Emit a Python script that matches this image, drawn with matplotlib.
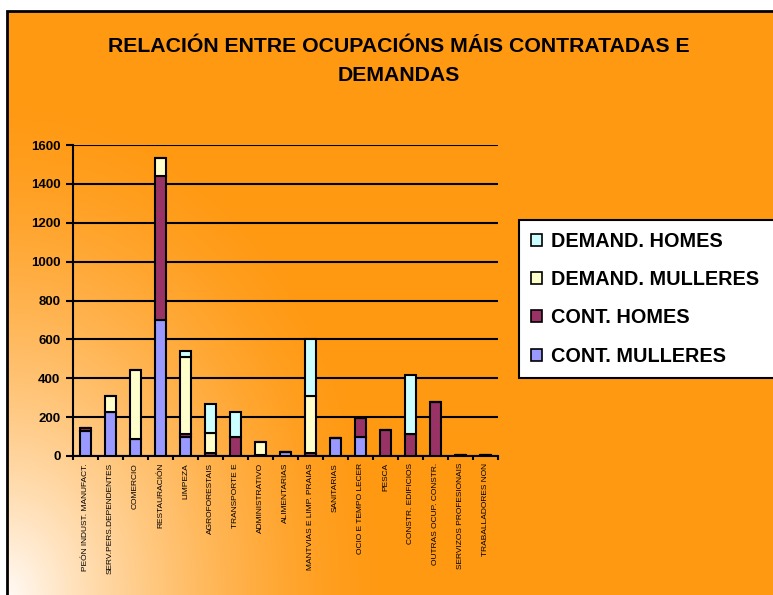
import numpy as np
import matplotlib
matplotlib.use("Agg")
import matplotlib.pyplot as plt
from matplotlib.patches import Rectangle, Patch

categories = ["PEÓN INDUST. MANUFACT.", "SERV.PERS.DEPENDENTES", "COMERCIO", "RESTAURACIÓN",
              "LIMPEZA", "AGROFORESTAIS", "TRANSPORTE E", "ADMINISTRATIVO", "ALIMENTARIAS",
              "MANTVIAS E LIMP. PRAIAS", "SANITARIAS", "OCIO E TEMPO LECER", "PESCA",
              "CONSTR. EDIFICIOS", "OUTRAS OCUP. CONSTR.", "SERVIZOS PROFESIONAIS",
              "TRABALLADORES NON"]
cont_mulleres = [130, 225, 90, 700, 100, 0, 0, 0, 20, 0, 95, 100, 0, 0, 0, 0, 0]
cont_homes = [15, 0, 0, 740, 12, 15, 100, 3, 0, 15, 0, 95, 135, 115, 280, 5, 5]
demand_mulleres = [0, 85, 355, 95, 395, 105, 0, 68, 0, 295, 0, 0, 0, 0, 0, 0, 0]
demand_homes = [0, 0, 0, 0, 35, 148, 125, 0, 0, 290, 0, 0, 0, 300, 0, 0, 0]
series_names = ["CONT. MULLERES", "CONT. HOMES", "DEMAND. MULLERES", "DEMAND. HOMES"]
series_colors = ["#9999FF", "#993366", "#FFFFCC", "#CCFFFF"]
y_ticks = [0, 200, 400, 600, 800, 1000, 1200, 1400, 1600]
title = "RELACIÓN ENTRE OCUPACIÓNS MÁIS CONTRATADAS E\nDEMANDAS"

W, H = 773, 595
fig = plt.figure(figsize=(W / 100, H / 100), dpi=100)
fig.patch.set_facecolor("white")

# background with radial gradient from bottom-left
x0, y0 = 7, 11
bg = fig.add_axes([x0 / W, 0, 1 - x0 / W, 1 - y0 / H])
bw, bh = W - x0, H - y0
xx, yy = np.meshgrid(np.arange(bw), np.arange(bh))
d = np.sqrt((xx / 380.0) ** 2 + ((bh - yy) / 500.0) ** 2)
t = np.clip(d, 0, 1)
orange = np.array([255, 153, 18]) / 255.0
light = np.array([255, 250, 245]) / 255.0
w = (1 - t) ** 1.5
img = orange[None, None, :] * (1 - w[..., None]) + light[None, None, :] * w[..., None]
bg.imshow(img, aspect="auto", extent=(0, bw, bh, 0), interpolation="bilinear")
bg.set_xlim(0, bw)
bg.set_ylim(bh, 0)
bg.axis("off")
fig.add_artist(Rectangle((x0 / W, -0.01), 1.02, 1 - y0 / H + 0.01, transform=fig.transFigure,
                         fill=False, edgecolor="black", linewidth=2.0, zorder=10))

ax = fig.add_axes([73 / W, 1 - 456 / H, (498 - 73) / W, (456 - 145) / H])
ax.patch.set_alpha(0)
x = np.arange(len(categories))
bottom = np.zeros(len(categories))
handles = []
for name, vals, col in zip(series_names, [cont_mulleres, cont_homes, demand_mulleres, demand_homes], series_colors):
    vals = np.array(vals, dtype=float)
    ax.bar(x, vals, width=0.46, bottom=bottom, color=col, edgecolor="black", linewidth=1.5, zorder=3)
    bottom += vals
    handles.append(Patch(facecolor=col, edgecolor="black", linewidth=1.2, label=name))

ax.set_xlim(-0.5, len(categories) - 0.5)
ax.set_ylim(0, 1600)
ax.set_yticks(y_ticks)
ax.set_yticklabels([str(v) for v in y_ticks], fontsize=9.5, fontweight="bold", family="Liberation Sans")
ax.yaxis.grid(True, color="black", linewidth=1.5, zorder=0)
ax.set_axisbelow(True)
for s in ["top", "right"]:
    ax.spines[s].set_visible(False)
ax.spines["left"].set_linewidth(1.5)
ax.spines["bottom"].set_linewidth(1.5)
ax.tick_params(axis="y", length=5, width=1.5, pad=4)
ax.set_xticks(np.arange(len(categories) + 1) - 0.5)
ax.set_xticklabels([])
ax.tick_params(axis="x", length=3, width=1.5)
ax.set_xticks(x, minor=True)
ax.set_xticklabels(categories, minor=True, rotation=90, fontsize=6.0, family="Liberation Sans", va="top")
ax.tick_params(axis="x", which="minor", length=0, pad=5)

leg_w = (790 - 519) / W
leg = fig.legend(handles=handles[::-1], loc="upper left", mode="expand",
                 bbox_to_anchor=(519 / W, 1 - 220 / H, leg_w, 0.0),
                 prop={"family": "Liberation Sans", "weight": "bold", "size": 14.3},
                 frameon=True, fancybox=False, edgecolor="black", facecolor="white", framealpha=1,
                 handlelength=0.55, handleheight=0.55, handletextpad=0.45, labelspacing=0.97,
                 borderpad=0.6, borderaxespad=0)
leg.get_frame().set_linewidth(1.5)

fig.text(399 / W, 1 - 61 / H, title, ha="center", va="center", fontsize=15.3, fontweight="bold",
         family="Liberation Sans", linespacing=1.65)

fig.savefig("out.png", dpi=100)
